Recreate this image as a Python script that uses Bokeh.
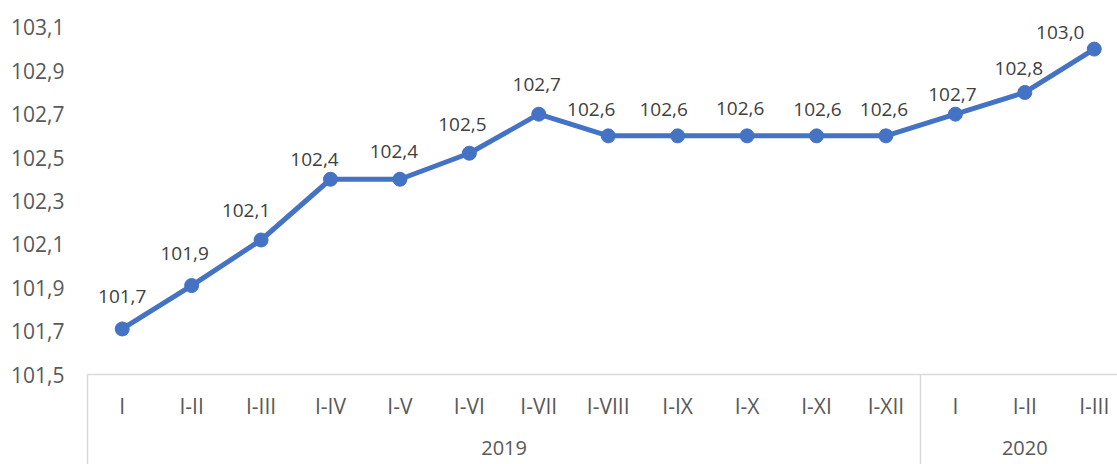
from bokeh.plotting import figure
from bokeh.models import (Range1d, FixedTicker, LinearAxis, ColumnDataSource,
                          CustomJSTickFormatter)
from bokeh.core.properties import value
from bokeh.embed import file_html
from bokeh.resources import INLINE

# ---- data ----
months = ["I", "I-II", "I-III", "I-IV", "I-V", "I-VI", "I-VII", "I-VIII",
          "I-IX", "I-X", "I-XI", "I-XII", "I", "I-II", "I-III"]
years = ["2019", "2020"]
year_counts = [12, 3]
values = [101.71, 101.91, 102.12, 102.40, 102.40, 102.52, 102.70, 102.60,
          102.60, 102.60, 102.60, 102.60, 102.70, 102.80, 103.00]
y_ticks = [101.5, 101.7, 101.9, 102.1, 102.3, 102.5, 102.7, 102.9, 103.1]

# data-label nudges (screen px, relative to each point)
label_dx = [0, -7, -15, -16, -6, -7, -2, -17, -14, -7, 1, -2, -3, -6, -34]
label_dy = [-32, -32, -29, -20, -28, -29, -30, -26, -26, -27, -26, -26, -20, -24, -17]

FONT = "Open Sans"
BLUE = "#4472C4"

xs = list(range(len(values)))
labels = [f"{v:.1f}".replace(".", ",") for v in values]
src = ColumnDataSource(dict(x=xs, y=values, lab=labels, dx=label_dx, dy=label_dy))

p = figure(width=1117, height=464, output_backend="svg", toolbar_location=None,
           x_range=Range1d(-0.5, 14.335), y_range=Range1d(y_ticks[0], 103.224),
           min_border_left=87, min_border_top=0, min_border_bottom=90,
           min_border_right=0)
p.outline_line_color = None
p.xgrid.grid_line_color = None
p.ygrid.grid_line_color = None
p.xaxis.visible = False

# y axis
p.yaxis.ticker = FixedTicker(ticks=y_ticks)
p.yaxis.formatter = CustomJSTickFormatter(code="return tick.toFixed(1).replace('.', ',');")
p.yaxis.axis_line_color = None
p.yaxis.major_tick_line_color = None
p.yaxis.minor_tick_line_color = None
p.yaxis.major_tick_out = 0
p.yaxis.major_label_standoff = 23
p.yaxis.major_label_text_font = FONT
p.yaxis.major_label_text_font_size = "21px"
p.yaxis.major_label_text_color = "#595959"

# category axis (months) with group separators as long minor ticks
bounds = [-0.5]
acc = -0.5
for c in year_counts:
    acc += c
    bounds.append(acc)
ax1 = LinearAxis(ticker=FixedTicker(ticks=xs, minor_ticks=bounds),
                 major_label_overrides={i: m for i, m in enumerate(months)})
ax1.axis_line_color = "#D9D9D9"
ax1.axis_line_width = 1.5
ax1.major_tick_line_color = None
ax1.major_tick_out = 0
ax1.major_tick_in = 0
ax1.minor_tick_line_color = "#D9D9D9"
ax1.minor_tick_line_width = 1.5
ax1.minor_tick_out = 95
ax1.minor_tick_in = 0
ax1.major_label_standoff = -78
ax1.major_label_text_font = FONT
ax1.major_label_text_font_size = "21px"
ax1.major_label_text_color = "#595959"
p.add_layout(ax1, "below")

# year axis
centers = []
start = 0
for c in year_counts:
    centers.append(start + (c - 1) / 2)
    start += c
ax2 = LinearAxis(ticker=FixedTicker(ticks=centers, minor_ticks=[]),
                 major_label_overrides={c: y for c, y in zip(centers, years)})
ax2.axis_line_color = None
ax2.major_tick_line_color = None
ax2.minor_tick_line_color = None
ax2.major_tick_out = 0
ax2.major_tick_in = 0
ax2.major_label_standoff = 18
ax2.major_label_text_font = FONT
ax2.major_label_text_font_size = "20px"
ax2.major_label_text_color = "#595959"
p.add_layout(ax2, "below")

# series
p.line("x", "y", source=src, line_color=BLUE, line_width=5, line_join="round")
p.scatter("x", "y", source=src, size=14, fill_color=BLUE, line_color=BLUE)
p.text("x", "y", text="lab", source=src, text_align="center", text_baseline="middle",
       x_offset="dx", y_offset="dy", text_font=value(FONT), text_font_size="19px",
       text_color="#404040")

open("out.html", "w").write(file_html(p, INLINE))
